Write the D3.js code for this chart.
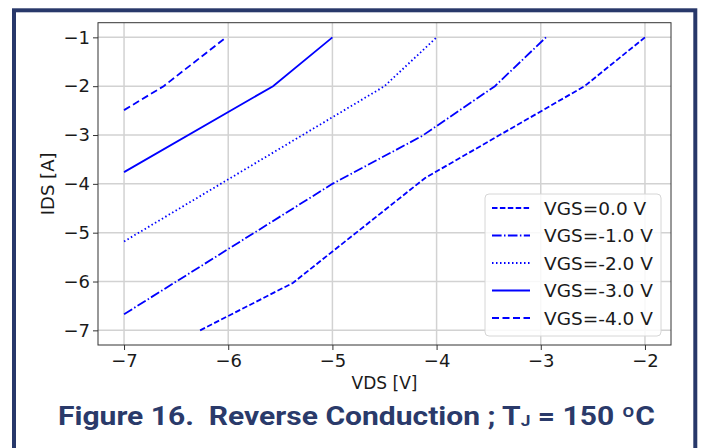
<!DOCTYPE html>
<html><head><meta charset="utf-8">
<script src="https://cdn.jsdelivr.net/npm/d3@7/dist/d3.min.js"></script>
<style>body{margin:0;background:#fff}svg{display:block}</style>
</head><body>
<script>
// ---- data ----
const seriesLabels = ["VGS=0.0 V","VGS=-1.0 V","VGS=-2.0 V","VGS=-3.0 V","VGS=-4.0 V"];
const vgs0_vds = [-6.27, -5.38, -4.11, -2.58, -2.0];
const vgs0_ids = [-7.0, -6.03, -3.88, -2.0, -1.0];
const vgs1_vds = [-7.0, -5.0, -4.14, -3.44, -2.95];
const vgs1_ids = [-6.67, -4.0, -3.02, -2.0, -1.0];
const vgs2_vds = [-7.0, -4.5, -4.0];
const vgs2_ids = [-5.18, -2.0, -1.0];
const vgs3_vds = [-7.0, -5.57, -5.0];
const vgs3_ids = [-3.76, -2.0, -1.0];
const vgs4_vds = [-7.0, -6.62, -6.02];
const vgs4_ids = [-2.49, -2.0, -1.0];
const xTicks = [-7,-6,-5,-4,-3,-2];
const yTicks = [-1,-2,-3,-4,-5,-6,-7];
const dashes = ["5.5,2.4","9.6,2.4,1.5,2.4","1.5,2.5",null,"7,3.5"];

const W=704,H=448;
const svg=d3.select("body").append("svg").attr("width",W).attr("height",H);
svg.append("rect").attr("width",W).attr("height",H).attr("fill","#fff");
// frame
svg.append("rect").attr("x",14).attr("y",10.3).attr("width",681.3).attr("height",460)
  .attr("fill","none").attr("stroke","#28386a").attr("stroke-width",4);

const x=d3.scaleLinear().domain([-7.25,-1.75]).range([98,671]);
const y=d3.scaleLinear().domain([-7.3,-0.7]).range([345,22.7]);
const font="'DejaVu Sans', sans-serif";

// grid
const g=svg.append("g");
g.selectAll(".gx").data(xTicks).join("line")
  .attr("x1",d=>x(d)).attr("x2",d=>x(d)).attr("y1",y.range()[0]).attr("y2",y.range()[1])
  .attr("stroke","#d2d2d2").attr("stroke-width",1.5);
g.selectAll(".gy").data(yTicks).join("line")
  .attr("y1",d=>y(d)).attr("y2",d=>y(d)).attr("x1",x.range()[0]).attr("x2",x.range()[1])
  .attr("stroke","#d2d2d2").attr("stroke-width",1.5);

// axes
const fmt=d=>(d<0?"\u2212":"")+Math.abs(d);
const xa=svg.append("g").attr("transform",`translate(0,${y.range()[0]})`)
  .call(d3.axisBottom(x).tickValues(xTicks).tickFormat(fmt).tickSize(5).tickPadding(4));
const ya=svg.append("g").attr("transform",`translate(${x.range()[0]},0)`)
  .call(d3.axisLeft(y).tickValues(yTicks).tickFormat(fmt).tickSize(5).tickPadding(3));
[xa,ya].forEach(a=>{a.select(".domain").remove();
  a.selectAll("text").attr("font-family",font).attr("font-size",18).attr("fill","#1a1a1a");
  a.selectAll("line").attr("stroke","#333");});
// spines
svg.append("rect").attr("x",x.range()[0]).attr("y",y.range()[1])
  .attr("width",x.range()[1]-x.range()[0]).attr("height",y.range()[0]-y.range()[1])
  .attr("fill","none").attr("stroke","#333").attr("stroke-width",1);

// lines
const series=[[vgs0_vds,vgs0_ids],[vgs1_vds,vgs1_ids],[vgs2_vds,vgs2_ids],[vgs3_vds,vgs3_ids],[vgs4_vds,vgs4_ids]];
const line=d3.line().x(d=>x(d[0])).y(d=>y(d[1]));
series.forEach((s,i)=>{
  const pts=s[0].map((v,k)=>[v,s[1][k]]);
  svg.append("path").attr("d",line(pts)).attr("fill","none").attr("stroke","#0000ff")
    .attr("stroke-width",1.8).attr("stroke-dasharray",dashes[i]);
});

// axis labels
svg.append("text").attr("x",(x.range()[0]+x.range()[1])/2).attr("y",389)
  .attr("text-anchor","middle").attr("font-family",font).attr("font-size",17).attr("fill","#1a1a1a").text("VDS [V]");
svg.append("text").attr("transform",`translate(54,${(y.range()[0]+y.range()[1])/2}) rotate(-90)`)
  .attr("text-anchor","middle").attr("font-family",font).attr("font-size",18).attr("fill","#1a1a1a").text("IDS [A]");

// legend
const lg=svg.append("g");
lg.append("rect").attr("x",485).attr("y",194).attr("width",176).attr("height",142).attr("rx",4)
  .attr("fill","#fff").attr("fill-opacity",0.85).attr("stroke","#d6d6d6");
seriesLabels.forEach((t,i)=>{
  const yy=208+i*27.5;
  lg.append("line").attr("x1",492).attr("x2",530).attr("y1",yy).attr("y2",yy)
    .attr("stroke","#0000ff").attr("stroke-width",1.8).attr("stroke-dasharray",dashes[i]);
  lg.append("text").attr("x",544).attr("y",yy).attr("dy","0.36em").attr("font-family",font)
    .attr("font-size",18.5).attr("fill","#1a1a1a").text(t);
});

// title
const tt=svg.append("text").attr("x",58).attr("y",425).attr("font-family","Roboto, 'DejaVu Sans', sans-serif")
  .attr("font-weight",700).attr("font-size",26).attr("fill","#2a3a6a")
  .attr("textLength",597).attr("lengthAdjust","spacingAndGlyphs");
tt.append("tspan").text("Figure 16.\u00a0 Reverse Conduction ; T");
tt.append("tspan").attr("font-size",15).attr("dy",1).text("J");
tt.append("tspan").attr("dy",-1).text(" = 150 \u00baC");
</script>
</body></html>
